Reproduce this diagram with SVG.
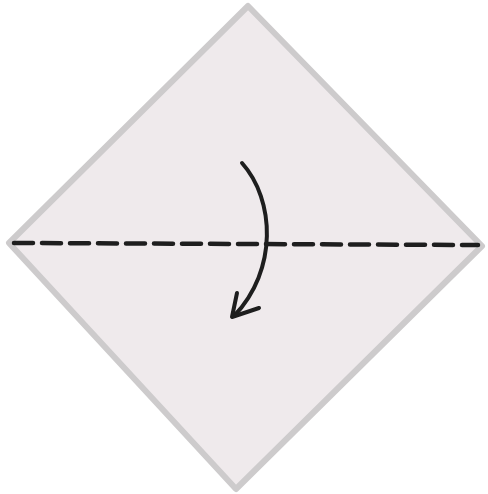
<svg xmlns="http://www.w3.org/2000/svg" width="488" height="494" viewBox="0 0 488 494">
<style>
.paper{fill:#efeaec;stroke:#cdcbcc;stroke-width:6;stroke-linejoin:round}
.fold{fill:none;stroke:#1e1e1e;stroke-width:4.5;stroke-dasharray:19 9;stroke-linecap:round}
.arrow{fill:none;stroke:#1e1e1e;stroke-width:4;stroke-linecap:round;stroke-linejoin:round}
</style>
<rect width="488" height="494" fill="#ffffff"/>
<g id="paper">
<polygon class="paper" points="248,6 482,246 236,489 9,243"/>
</g>
<g id="connectors">
<line class="fold" x1="14" y1="243" x2="478" y2="245"/>
<path class="arrow" d="M242,163 C275,200 278,270 234,316"/>
<path class="arrow" d="M237,293 L232,317 L259,308"/>
</g>
</svg>
